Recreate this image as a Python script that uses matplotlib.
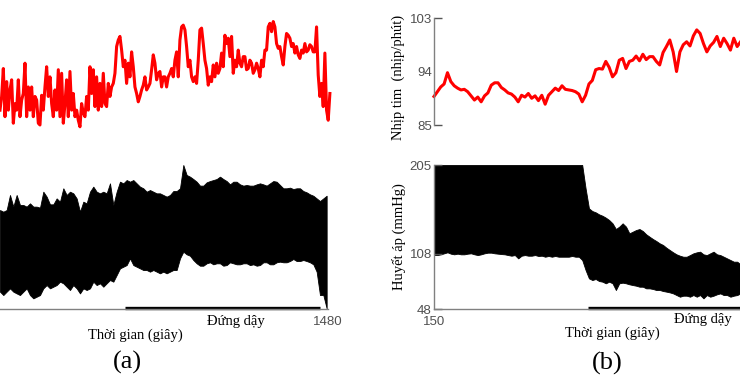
import matplotlib.pyplot as plt
import numpy as np

# ---- heart rate (nhip/phut), panel (a): trace from 258 s to 1487 s
hr_a = [87.5, 89.8, 94.5, 86.4, 92.3, 87.5, 90.9, 92.6, 85.3, 88.6,
        87.5, 92.6, 86.4, 89.2, 90.3, 95.4, 86.4, 91.4, 87.5, 91.4,
        86.4, 89.8, 89.2, 85.3, 85.0, 90.0, 87.5, 91.4, 94.8, 89.8,
        93.1, 88.6, 86.4, 90.9, 87.5, 94.3, 86.4, 93.7, 85.3, 88.6,
        92.6, 86.4, 94.0, 87.5, 90.3, 86.4, 87.5, 85.8, 84.7, 88.6,
        87.0, 86.4, 89.8, 87.5, 94.8, 90.3, 94.3, 88.1, 93.1, 87.5,
        92.0, 88.1, 93.7, 88.6, 88.1, 92.0, 89.8, 91.4, 92.0, 93.7,
        98.2, 99.3, 99.9, 97.6, 94.8, 95.9, 92.0, 95.4, 93.1, 97.3,
        94.8, 91.4, 90.3, 88.9, 89.8, 90.9, 91.7, 93.1, 90.9, 91.4,
        92.0, 94.3, 96.8, 95.4, 92.6, 93.7, 94.0, 91.4, 93.1,
        93.1, 91.4, 93.1, 93.7, 94.5, 93.1, 95.9, 97.3, 93.1, 99.3,
        101.5, 101.8, 101.0, 98.2, 94.8, 95.9, 93.1, 92.3, 93.1, 92.0,
        95.9, 101.0, 101.3, 98.7, 95.9, 94.5, 91.7, 93.1, 92.3, 95.1,
        93.1, 95.4, 93.7, 94.5, 97.1, 94.8, 100.1, 98.7, 99.6, 96.5,
        99.9, 93.7, 95.9, 94.8, 97.6, 95.4, 94.8, 96.5, 96.5, 94.3,
        94.5, 95.9, 95.4, 93.7, 94.3, 95.4, 94.5, 93.1, 95.9, 94.8,
        97.6, 97.6, 101.5, 102.1, 100.7, 102.4, 101.5, 98.7, 97.9, 98.2,
        96.5, 95.1, 98.2, 100.4, 100.1, 99.6, 98.2, 98.7, 97.1, 98.2,
        96.8, 96.2, 97.6, 97.1, 98.7, 97.3, 97.6, 98.5, 98.2, 97.3,
        97.3, 101.5, 93.4, 89.8, 92.0, 88.1, 97.1, 87.5, 85.8, 90.3]
t_hr_a = np.linspace(258, 1487, len(hr_a))

# ---- blood pressure (mmHg) envelope, panel (a): 258 s to 1475 s
bp_a_hi = [155.9, 154.1, 155.9, 172.3, 159.6, 172.3, 161.4, 161.4, 159.6, 163.2,
           159.6, 159.6, 158.5, 175.9, 170.5, 162.1, 162.1, 168.6, 165.0, 179.6,
           172.3, 175.9, 174.1, 168.6, 154.1, 165.0, 163.2, 175.9, 181.4, 175.9,
           174.1, 175.9, 174.1, 185.0, 161.4, 175.9, 186.8, 185.0, 188.6, 186.8,
           188.6, 185.0, 181.4, 179.6, 175.9, 177.7, 175.9, 174.1, 174.1, 172.3,
           170.5, 172.3,
           176.6, 176.6, 179.6, 205.0, 194.1, 192.3, 189.7, 186.8, 182.5, 182.5,
           186.1, 187.5, 188.6, 189.7, 192.3, 189.7, 187.5, 183.9, 186.8, 186.8,
           183.9, 182.5, 183.2, 182.5, 182.5, 183.9, 185.0, 183.9, 182.5, 185.0,
           187.5, 186.8, 183.2, 179.6, 179.6, 180.3, 178.8, 179.6, 179.6, 176.6,
           175.2, 173.0, 171.5, 168.6, 165.7, 168.6, 171.5]
bp_a_lo = [66.9, 63.2, 66.9, 70.5, 66.9, 65.0, 63.2, 66.9, 70.5, 63.2,
           59.6, 61.4, 63.2, 70.5, 74.1, 70.5, 72.3, 74.1, 77.8, 76.0,
           72.3, 68.7, 74.1, 70.5, 65.0, 70.5, 68.7, 70.5, 77.8, 74.1,
           76.0, 72.3, 76.0, 79.6, 77.8, 85.0, 92.3, 94.1, 95.9, 103.2,
           95.9, 94.1, 92.3, 90.5, 90.5, 88.7, 90.5, 88.7, 86.9, 88.7,
           86.9, 88.7,
           90.5, 90.5, 103.2, 110.5, 107.6, 106.1, 101.4, 97.8, 95.2, 95.2,
           97.8, 98.9, 96.7, 97.8, 97.8, 95.2, 95.9, 98.9, 97.8, 96.7,
           96.7, 97.8, 97.8, 95.9, 96.7, 95.2, 95.9, 98.9, 98.9, 96.7,
           96.7, 98.9, 99.6, 98.9, 98.9, 100.3, 102.5, 100.3, 100.3, 101.4,
           100.3, 98.9, 96.7, 88.7, 63.2, 63.2, 48.7]
t_bp_a = np.linspace(258, 1475, len(bp_a_hi))

# ---- panel (b): 150 s onwards (cut at the right edge)
hr_b = [89.8, 90.6, 91.4, 91.9, 93.8, 92.3, 91.6, 91.2, 90.9, 91.0,
        90.6, 89.9, 89.2, 89.7, 88.9, 89.9, 90.4, 91.7, 92.1, 92.1,
        91.3, 90.9, 90.4, 90.2, 89.7, 88.9, 90.0, 89.7, 90.3, 89.5,
        89.9, 89.1, 90.0, 88.5, 90.0, 90.6, 91.2, 90.8, 91.6, 91.0,
        90.9, 90.8, 90.6, 90.2, 88.9, 90.0, 91.9, 92.5, 94.3, 94.5,
        94.4, 95.7, 94.7, 93.1, 93.8, 95.9, 96.2, 94.5, 95.7, 95.9,
        96.6, 95.8, 96.9, 96.0, 96.5, 96.5, 95.7, 95.1, 97.2, 98.2,
        99.3, 97.3, 94.0, 97.3, 98.5, 99.0, 98.3, 100.0, 101.0, 100.4,
        98.7, 97.3, 98.3, 98.9, 99.9, 98.2, 99.6, 98.7, 97.6, 99.6,
        98.2, 99.0]
t_hr_b = np.linspace(150, 1292, len(hr_b))

bp_b_hi = [205, 205, 205, 205, 205, 205, 205, 205, 205, 205,
           205, 205, 205, 205, 205, 205, 205, 205, 205, 205,
           205, 205, 205, 205, 205, 205, 205, 205, 205, 205,
           205, 205, 205, 205, 205, 205, 205, 205, 205, 205,
           205, 205, 205, 205, 205,
           179.6, 157.7, 154.8, 153.4, 151.2, 149.7, 147.6, 145.0, 141.4, 135.2,
           137.8, 141.4, 137.8, 130.5, 132.3, 134.1, 135.2, 133.0, 129.4, 126.8,
           124.3, 122.1, 119.6, 117.8, 114.8, 112.3, 109.8, 107.6, 106.1, 105.0,
           105.0, 106.8, 108.7, 109.8, 110.5, 107.6, 106.8, 108.7, 110.5, 107.6,
           106.8, 105.0, 103.2, 101.4, 99.6, 99.6, 96.7]
bp_b_lo = [106.8, 106.8, 107.6, 108.7, 109.8, 108.3, 107.6, 108.3, 107.6, 107.6,
           108.3, 108.7, 107.6, 106.8, 107.6, 108.7, 109.4, 109.4, 108.7, 108.3,
           107.9, 107.6, 106.8, 106.1, 106.8, 103.2, 106.1, 106.8, 106.1, 106.1,
           106.8, 105.8, 106.1, 105.0, 105.8, 105.0, 105.8, 105.0, 105.0, 105.0,
           105.0, 105.8, 105.0, 105.0, 101.4, 90.5, 81.4, 79.6, 80.7, 78.5,
           77.8, 76.0, 77.8, 76.0, 68.7, 76.0, 76.7, 76.0, 74.9, 74.1,
           73.4, 72.3, 72.3, 70.5, 70.5, 69.8, 68.7, 68.7, 67.6, 66.9,
           66.1, 65.0, 63.2, 61.4, 62.5, 62.5, 61.4, 63.2, 61.4, 63.2,
           59.6, 63.2, 61.4, 62.5, 64.0, 65.0, 63.2, 63.2, 61.4, 62.5,
           63.2, 65.0]
t_bp_b = np.linspace(150, 1292, len(bp_b_hi))

# standing period (s)
stand_a = (724, 1450)
stand_b = (724, 1480)

t_range = (150, 1480)
hr_ticks = [85, 94, 103]
bp_ticks = [48, 108, 205]

W, H = 740, 380
fig = plt.figure(figsize=(W / 100, H / 100), dpi=100)
serif = 'Liberation Serif'
sans = 'Liberation Sans'


def add_ax(left, top, width, height):
    return fig.add_axes([left / W, 1 - (top + height) / H, width / W, height / H])


def style(ax, bottom, show_y):
    for s in ['top', 'right']:
        ax.spines[s].set_visible(False)
    ax.spines['bottom'].set_visible(bottom)
    for s in ['left', 'bottom']:
        ax.spines[s].set_color('#808080')
        ax.spines[s].set_linewidth(1.0)
    ax.tick_params(direction='in', length=6, width=1.0, pad=1.5, color='#555555',
                   labelsize=9.5, labelcolor='#505050', labelleft=show_y)
    for lab in ax.get_xticklabels() + ax.get_yticklabels():
        lab.set_family(sans)


def panel(x0, t_hr, hr, t_bp, bp_hi, bp_lo, stand, xtick, show_y):
    # cut-off panels: the left panel's y axis and the right panel's end lie outside the picture
    ax1 = add_ax(x0, 18, 357, 107)
    ax1.plot(t_hr, hr, color='#ff0000', lw=2.2, clip_on=False)
    ax1.set_xlim(*t_range)
    ax1.set_ylim(hr_ticks[0], hr_ticks[-1])
    ax1.set_xticks([])
    ax1.set_yticks(hr_ticks)
    style(ax1, False, show_y)
    ax1.yaxis.get_major_ticks()[1].tick1line.set_visible(False)

    ax2 = add_ax(x0, 165, 357, 144)
    ax2.fill_between(t_bp, bp_lo, bp_hi, color='black', lw=0.6, edgecolor='black')
    ax2.plot(stand, [49.6, 49.6], color='black', lw=2.4, solid_capstyle='butt', clip_on=False)
    ax2.set_xlim(*t_range)
    ax2.set_ylim(bp_ticks[0], bp_ticks[-1])
    ax2.set_xticks([xtick])
    ax2.set_yticks(bp_ticks)
    style(ax2, True, show_y)
    ax2.tick_params(axis='x', length=0, pad=5)


panel(-29, t_hr_a, hr_a, t_bp_a, bp_a_hi, bp_a_lo, stand_a, t_range[1], False)
panel(434, t_hr_b, hr_b, t_bp_b, bp_b_hi, bp_b_lo, stand_b, t_range[0], True)

# labels
fig.text(135 / W, 1 - 335 / H, 'Thời gian (giây)', ha='center', va='center', family=serif, size=10.5)
fig.text(612 / W, 1 - 333 / H, 'Thời gian (giây)', ha='center', va='center', family=serif, size=10.5)
fig.text(236 / W, 1 - 321 / H, 'Đứng dậy', ha='center', va='center', family=serif, size=10.5)
fig.text(703 / W, 1 - 320 / H, 'Đứng dậy', ha='center', va='center', family=serif, size=10.5)
fig.text(127 / W, 1 - 362 / H, '(a)', ha='center', va='center', family=serif, size=19)
fig.text(607 / W, 1 - 363 / H, '(b)', ha='center', va='center', family=serif, size=19)
fig.text(398 / W, 1 - 77 / H, 'Nhịp tim  (nhịp/phút)', ha='center', va='center',
         rotation=90, family=serif, size=10.5)
fig.text(399 / W, 1 - 237 / H, 'Huyết áp (mmHg)', ha='center', va='center',
         rotation=90, family=serif, size=10.5)

fig.savefig('out.png', dpi=100)
